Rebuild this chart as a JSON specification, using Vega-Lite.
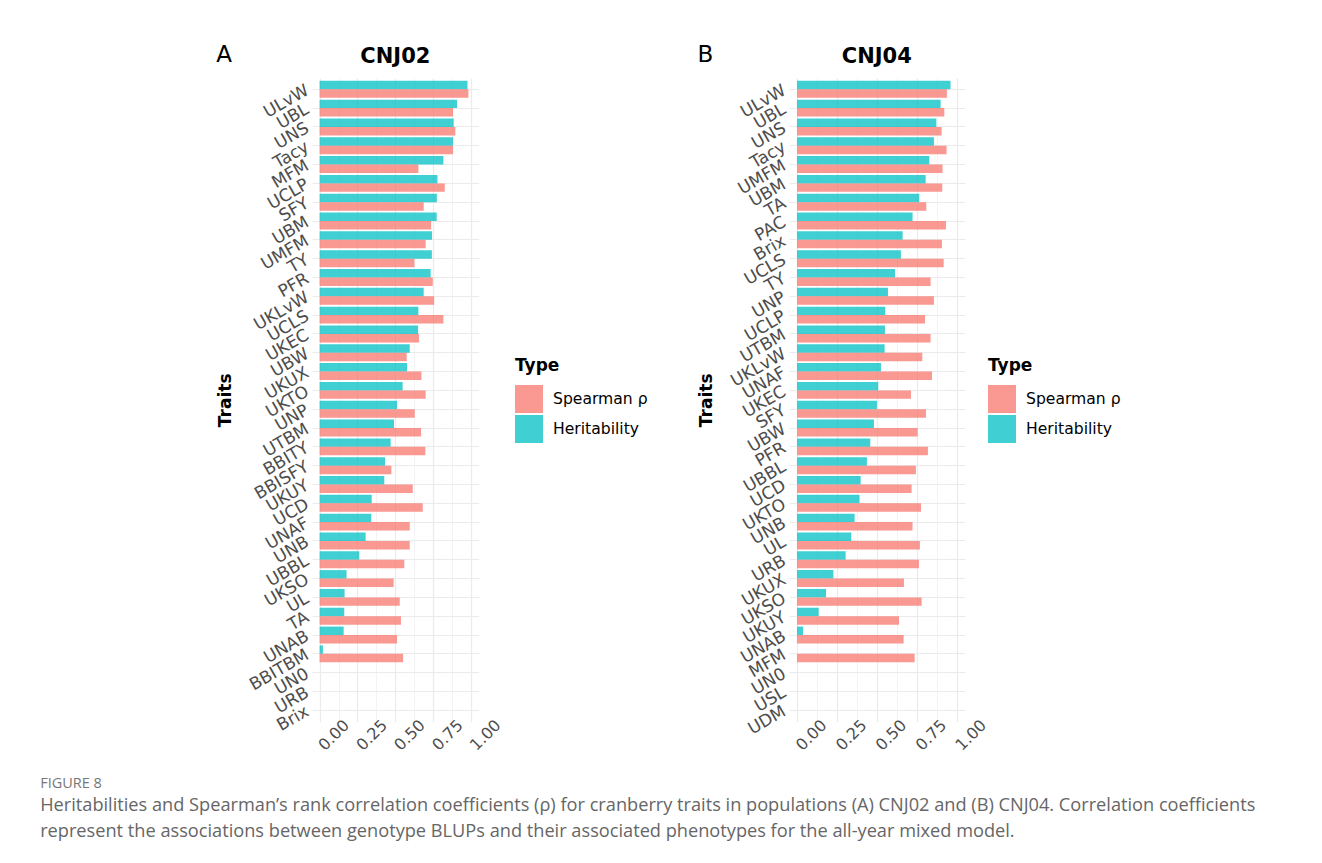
{
  "$schema": "https://vega.github.io/schema/vega-lite/v6.json",
  "background": "white",
  "autosize": {"type": "pad"},
  "padding": {"left": 40, "top": 44, "right": 0, "bottom": 12},
  "config": {
    "font": "DejaVu Sans",
    "view": {"stroke": null},
    "concat": {"spacing": 49}
  },
  "datasets": {
    "a": [
      {"trait": "ULvW", "type": "Heritability", "value": 0.976}, {"trait": "ULvW", "type": "Spearman ρ", "value": 0.982},
      {"trait": "UBL", "type": "Heritability", "value": 0.907}, {"trait": "UBL", "type": "Spearman ρ", "value": 0.881},
      {"trait": "UNS", "type": "Heritability", "value": 0.885}, {"trait": "UNS", "type": "Spearman ρ", "value": 0.896},
      {"trait": "Tacy", "type": "Heritability", "value": 0.881}, {"trait": "Tacy", "type": "Spearman ρ", "value": 0.881},
      {"trait": "MFM", "type": "Heritability", "value": 0.817}, {"trait": "MFM", "type": "Spearman ρ", "value": 0.652},
      {"trait": "UCLP", "type": "Heritability", "value": 0.778}, {"trait": "UCLP", "type": "Spearman ρ", "value": 0.826},
      {"trait": "SFY", "type": "Heritability", "value": 0.774}, {"trait": "SFY", "type": "Spearman ρ", "value": 0.687},
      {"trait": "UBM", "type": "Heritability", "value": 0.773}, {"trait": "UBM", "type": "Spearman ρ", "value": 0.736},
      {"trait": "UMFM", "type": "Heritability", "value": 0.742}, {"trait": "UMFM", "type": "Spearman ρ", "value": 0.700},
      {"trait": "TY", "type": "Heritability", "value": 0.741}, {"trait": "TY", "type": "Spearman ρ", "value": 0.626},
      {"trait": "PFR", "type": "Heritability", "value": 0.733}, {"trait": "PFR", "type": "Spearman ρ", "value": 0.747},
      {"trait": "UKLvW", "type": "Heritability", "value": 0.687}, {"trait": "UKLvW", "type": "Spearman ρ", "value": 0.756},
      {"trait": "UCLS", "type": "Heritability", "value": 0.652}, {"trait": "UCLS", "type": "Spearman ρ", "value": 0.817},
      {"trait": "UKEC", "type": "Heritability", "value": 0.650}, {"trait": "UKEC", "type": "Spearman ρ", "value": 0.656},
      {"trait": "UBW", "type": "Heritability", "value": 0.595}, {"trait": "UBW", "type": "Spearman ρ", "value": 0.575},
      {"trait": "UKUX", "type": "Heritability", "value": 0.577}, {"trait": "UKUX", "type": "Spearman ρ", "value": 0.672},
      {"trait": "UKTO", "type": "Heritability", "value": 0.548}, {"trait": "UKTO", "type": "Spearman ρ", "value": 0.700},
      {"trait": "UNP", "type": "Heritability", "value": 0.511}, {"trait": "UNP", "type": "Spearman ρ", "value": 0.628},
      {"trait": "UTBM", "type": "Heritability", "value": 0.491}, {"trait": "UTBM", "type": "Spearman ρ", "value": 0.670},
      {"trait": "BBITY", "type": "Heritability", "value": 0.469}, {"trait": "BBITY", "type": "Spearman ρ", "value": 0.698},
      {"trait": "BBISFY", "type": "Heritability", "value": 0.432}, {"trait": "BBISFY", "type": "Spearman ρ", "value": 0.474},
      {"trait": "UKUY", "type": "Heritability", "value": 0.427}, {"trait": "UKUY", "type": "Spearman ρ", "value": 0.615},
      {"trait": "UCD", "type": "Heritability", "value": 0.344}, {"trait": "UCD", "type": "Spearman ρ", "value": 0.681},
      {"trait": "UNAF", "type": "Heritability", "value": 0.341}, {"trait": "UNAF", "type": "Spearman ρ", "value": 0.595},
      {"trait": "UNB", "type": "Heritability", "value": 0.304}, {"trait": "UNB", "type": "Spearman ρ", "value": 0.595},
      {"trait": "UBBL", "type": "Heritability", "value": 0.262}, {"trait": "UBBL", "type": "Spearman ρ", "value": 0.559},
      {"trait": "UKSO", "type": "Heritability", "value": 0.178}, {"trait": "UKSO", "type": "Spearman ρ", "value": 0.489},
      {"trait": "UL", "type": "Heritability", "value": 0.165}, {"trait": "UL", "type": "Spearman ρ", "value": 0.529},
      {"trait": "TA", "type": "Heritability", "value": 0.163}, {"trait": "TA", "type": "Spearman ρ", "value": 0.537},
      {"trait": "UNAB", "type": "Heritability", "value": 0.159}, {"trait": "UNAB", "type": "Spearman ρ", "value": 0.511},
      {"trait": "BBITBM", "type": "Heritability", "value": 0.022}, {"trait": "BBITBM", "type": "Spearman ρ", "value": 0.551}
    ],
    "b": [
      {"trait": "ULvW", "type": "Heritability", "value": 0.962}, {"trait": "ULvW", "type": "Spearman ρ", "value": 0.939},
      {"trait": "UBL", "type": "Heritability", "value": 0.900}, {"trait": "UBL", "type": "Spearman ρ", "value": 0.923},
      {"trait": "UNS", "type": "Heritability", "value": 0.873}, {"trait": "UNS", "type": "Spearman ρ", "value": 0.906},
      {"trait": "Tacy", "type": "Heritability", "value": 0.858}, {"trait": "Tacy", "type": "Spearman ρ", "value": 0.937},
      {"trait": "UMFM", "type": "Heritability", "value": 0.829}, {"trait": "UMFM", "type": "Spearman ρ", "value": 0.912},
      {"trait": "UBM", "type": "Heritability", "value": 0.806}, {"trait": "UBM", "type": "Spearman ρ", "value": 0.910},
      {"trait": "TA", "type": "Heritability", "value": 0.766}, {"trait": "TA", "type": "Spearman ρ", "value": 0.810},
      {"trait": "PAC", "type": "Heritability", "value": 0.724}, {"trait": "PAC", "type": "Spearman ρ", "value": 0.933},
      {"trait": "Brix", "type": "Heritability", "value": 0.662}, {"trait": "Brix", "type": "Spearman ρ", "value": 0.908},
      {"trait": "UCLS", "type": "Heritability", "value": 0.651}, {"trait": "UCLS", "type": "Spearman ρ", "value": 0.919},
      {"trait": "TY", "type": "Heritability", "value": 0.614}, {"trait": "TY", "type": "Spearman ρ", "value": 0.837},
      {"trait": "UNP", "type": "Heritability", "value": 0.570}, {"trait": "UNP", "type": "Spearman ρ", "value": 0.858},
      {"trait": "UCLP", "type": "Heritability", "value": 0.553}, {"trait": "UCLP", "type": "Spearman ρ", "value": 0.802},
      {"trait": "UTBM", "type": "Heritability", "value": 0.551}, {"trait": "UTBM", "type": "Spearman ρ", "value": 0.837},
      {"trait": "UKLvW", "type": "Heritability", "value": 0.549}, {"trait": "UKLvW", "type": "Spearman ρ", "value": 0.785},
      {"trait": "UNAF", "type": "Heritability", "value": 0.526}, {"trait": "UNAF", "type": "Spearman ρ", "value": 0.846},
      {"trait": "UKEC", "type": "Heritability", "value": 0.509}, {"trait": "UKEC", "type": "Spearman ρ", "value": 0.714},
      {"trait": "SFY", "type": "Heritability", "value": 0.501}, {"trait": "SFY", "type": "Spearman ρ", "value": 0.808},
      {"trait": "UBW", "type": "Heritability", "value": 0.482}, {"trait": "UBW", "type": "Spearman ρ", "value": 0.756},
      {"trait": "PFR", "type": "Heritability", "value": 0.459}, {"trait": "PFR", "type": "Spearman ρ", "value": 0.820},
      {"trait": "UBBL", "type": "Heritability", "value": 0.438}, {"trait": "UBBL", "type": "Spearman ρ", "value": 0.745},
      {"trait": "UCD", "type": "Heritability", "value": 0.399}, {"trait": "UCD", "type": "Spearman ρ", "value": 0.718},
      {"trait": "UKTO", "type": "Heritability", "value": 0.392}, {"trait": "UKTO", "type": "Spearman ρ", "value": 0.777},
      {"trait": "UNB", "type": "Heritability", "value": 0.361}, {"trait": "UNB", "type": "Spearman ρ", "value": 0.724},
      {"trait": "UL", "type": "Heritability", "value": 0.340}, {"trait": "UL", "type": "Spearman ρ", "value": 0.770},
      {"trait": "URB", "type": "Heritability", "value": 0.305}, {"trait": "URB", "type": "Spearman ρ", "value": 0.764},
      {"trait": "UKUX", "type": "Heritability", "value": 0.228}, {"trait": "UKUX", "type": "Spearman ρ", "value": 0.670},
      {"trait": "UKSO", "type": "Heritability", "value": 0.182}, {"trait": "UKSO", "type": "Spearman ρ", "value": 0.781},
      {"trait": "UKUY", "type": "Heritability", "value": 0.136}, {"trait": "UKUY", "type": "Spearman ρ", "value": 0.639},
      {"trait": "UNAB", "type": "Heritability", "value": 0.038}, {"trait": "UNAB", "type": "Spearman ρ", "value": 0.668},
      {"trait": "MFM", "type": "Spearman ρ", "value": 0.737}
    ]
  },
  "title": {
    "text": "FIGURE 8",
    "subtitle": [
      "Heritabilities and Spearman’s rank correlation coefficients (ρ) for cranberry traits in populations (A) CNJ02 and (B) CNJ04. Correlation coefficients",
      "represent the associations between genotype BLUPs and their associated phenotypes for the all-year mixed model."
    ],
    "orient": "bottom",
    "anchor": "start",
    "frame": "bounds",
    "dx": -176,
    "offset": 24,
    "font": "Open Sans",
    "fontSize": 14.5,
    "fontWeight": "normal",
    "color": "#777777",
    "subtitleFont": "Open Sans",
    "subtitleFontSize": 18.2,
    "subtitleColor": "#666666",
    "subtitleLineHeight": 26,
    "subtitlePadding": 5
  },
  "resolve": {
    "scale": {"x": "independent", "y": "independent", "color": "independent", "yOffset": "independent"},
    "legend": {"color": "independent"}
  },
  "hconcat": [
    {
      "title": {"text": "A", "anchor": "start", "frame": "bounds", "fontSize": 23, "fontWeight": "normal", "color": "black", "baseline": "top", "offset": -21},
      "vconcat": [
        {
          "data": {"name": "a"},
          "title": {"text": "CNJ02", "fontSize": 21, "fontWeight": "bold", "color": "black", "baseline": "top", "offset": 11},
          "width": 166.7,
          "height": 643.6,
          "mark": {"type": "bar", "opacity": 0.75},
          "encoding": {
            "y": {
              "field": "trait", "type": "nominal", "title": "Traits",
              "scale": {"domain": ["ULvW","UBL","UNS","Tacy","MFM","UCLP","SFY","UBM","UMFM","TY","PFR","UKLvW","UCLS","UKEC","UBW","UKUX","UKTO","UNP","UTBM","BBITY","BBISFY","UKUY","UCD","UNAF","UNB","UBBL","UKSO","UL","TA","UNAB","BBITBM","UN0","URB","Brix"], "paddingInner": 0.1, "paddingOuter": 0.15},
              "axis": {"labelAngle": -30, "labelAlign": "right", "labelBaseline": "middle", "labelFontSize": 17, "labelColor": "#4D4D4D", "labelPadding": 5, "labelOverlap": false, "labelBound": false, "ticks": false, "domain": false, "grid": true, "gridColor": "#EBEBEB", "gridWidth": 1.2, "bandPosition": 0.5, "titleFontSize": 17, "titleFontWeight": "bold", "titleColor": "black", "titlePadding": 12}
            },
            "yOffset": {"field": "type", "scale": {"domain": ["Heritability", "Spearman ρ"]}},
            "x": {
              "field": "value", "type": "quantitative", "title": null,
              "scale": {"domain": [-0.05, 1.05], "nice": false, "zero": false},
              "axis": {"values": [0, 0.125, 0.25, 0.375, 0.5, 0.625, 0.75, 0.875, 1], "labelExpr": "(datum.value * 4) % 1 === 0 ? format(datum.value, '.2f') : ''", "labelAngle": -45, "labelAlign": "right", "labelBaseline": "top", "labelOffset": 21, "labelPadding": -5, "labelFontSize": 16, "labelColor": "#4D4D4D", "labelOverlap": false, "labelBound": false, "ticks": false, "domain": false, "grid": true, "gridColor": "#EBEBEB", "gridWidth": {"condition": {"test": "(datum.value * 4) % 1 !== 0", "value": 0.6}, "value": 1.2}}
            },
            "x2": {"datum": 0},
            "color": {
              "field": "type", "type": "nominal",
              "scale": {"domain": ["Spearman ρ", "Heritability"], "range": ["#F8766D", "#00BFC4"]},
              "legend": {"orient": "none", "legendX": 203, "legendY": 280, "title": "Type", "titleFontSize": 17, "titleFontWeight": "bold", "titleColor": "black", "titlePadding": 10, "labelFontSize": 15.6, "labelColor": "black", "labelOffset": 10, "symbolType": "square", "symbolSize": 784, "symbolStrokeWidth": 0, "symbolOpacity": 0.75, "rowPadding": 2, "padding": 0}
            }
          }
        }
      ]
    },
    {
      "title": {"text": "B", "anchor": "start", "frame": "bounds", "fontSize": 23, "fontWeight": "normal", "color": "black", "baseline": "top", "offset": -21},
      "vconcat": [
        {
          "data": {"name": "b"},
          "title": {"text": "CNJ04", "fontSize": 21, "fontWeight": "bold", "color": "black", "baseline": "top", "offset": 11},
          "width": 175.6,
          "height": 643.6,
          "mark": {"type": "bar", "opacity": 0.75},
          "encoding": {
            "y": {
              "field": "trait", "type": "nominal", "title": "Traits",
              "scale": {"domain": ["ULvW","UBL","UNS","Tacy","UMFM","UBM","TA","PAC","Brix","UCLS","TY","UNP","UCLP","UTBM","UKLvW","UNAF","UKEC","SFY","UBW","PFR","UBBL","UCD","UKTO","UNB","UL","URB","UKUX","UKSO","UKUY","UNAB","MFM","UN0","USL","UDM"], "paddingInner": 0.1, "paddingOuter": 0.15},
              "axis": {"labelAngle": -30, "labelAlign": "right", "labelBaseline": "middle", "labelFontSize": 17, "labelColor": "#4D4D4D", "labelPadding": 5, "labelOverlap": false, "labelBound": false, "ticks": false, "domain": false, "grid": true, "gridColor": "#EBEBEB", "gridWidth": 1.2, "bandPosition": 0.5, "titleFontSize": 17, "titleFontWeight": "bold", "titleColor": "black", "titlePadding": 12}
            },
            "yOffset": {"field": "type", "scale": {"domain": ["Heritability", "Spearman ρ"]}},
            "x": {
              "field": "value", "type": "quantitative", "title": null,
              "scale": {"domain": [-0.05, 1.05], "nice": false, "zero": false},
              "axis": {"values": [0, 0.125, 0.25, 0.375, 0.5, 0.625, 0.75, 0.875, 1], "labelExpr": "(datum.value * 4) % 1 === 0 ? format(datum.value, '.2f') : ''", "labelAngle": -45, "labelAlign": "right", "labelBaseline": "top", "labelOffset": 21, "labelPadding": -5, "labelFontSize": 16, "labelColor": "#4D4D4D", "labelOverlap": false, "labelBound": false, "ticks": false, "domain": false, "grid": true, "gridColor": "#EBEBEB", "gridWidth": {"condition": {"test": "(datum.value * 4) % 1 !== 0", "value": 0.6}, "value": 1.2}}
            },
            "x2": {"datum": 0},
            "color": {
              "field": "type", "type": "nominal",
              "scale": {"domain": ["Spearman ρ", "Heritability"], "range": ["#F8766D", "#00BFC4"]},
              "legend": {"orient": "none", "legendX": 199, "legendY": 280, "title": "Type", "titleFontSize": 17, "titleFontWeight": "bold", "titleColor": "black", "titlePadding": 10, "labelFontSize": 15.6, "labelColor": "black", "labelOffset": 10, "symbolType": "square", "symbolSize": 784, "symbolStrokeWidth": 0, "symbolOpacity": 0.75, "rowPadding": 2, "padding": 0}
            }
          }
        }
      ]
    }
  ]
}
